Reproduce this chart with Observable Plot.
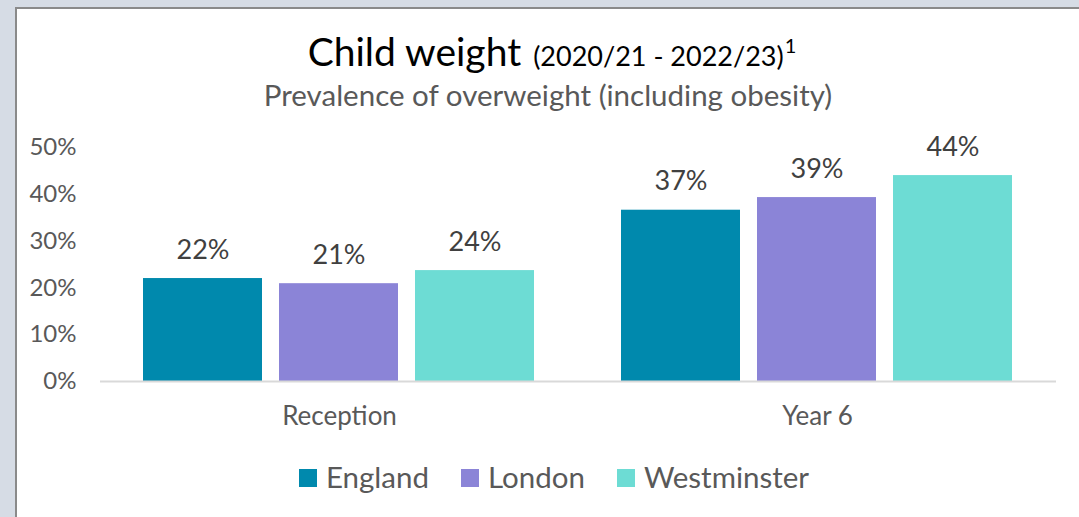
<!DOCTYPE html>
<html>
<head>
<meta charset="utf-8">
<script src="https://cdn.jsdelivr.net/npm/d3@7"></script>
<script src="https://cdn.jsdelivr.net/npm/@observablehq/plot@0.6"></script>
<style>
  html, body { margin: 0; padding: 0; width: 1079px; height: 517px; overflow: hidden; background: #d6dce5; font-family: Lato, "Open Sans", sans-serif; }
  #panel { position: absolute; left: 15px; top: 7px; width: 1070px; height: 520px; background: #fff; border-left: 2px solid #8a8a8a; border-top: 2px solid #8a8a8a; }
  #title { position: absolute; left: 0; width: 1104px; top: 28px; text-align: center; color: #000; white-space: nowrap; }
  #title .main { font-size: 39px; margin-right: 12px; }
  #title .sub { font-size: 27px; }
  #title sup { font-size: 20px; position: relative; top: -3px; margin-left: 1px; }
  #subtitle { position: absolute; left: 0; width: 1096px; top: 77px; text-align: center; color: #595959; font-size: 29.5px; white-space: nowrap; }
  #chart { position: absolute; left: 0; top: 110px; }
  #legend { position: absolute; left: 0; width: 1108px; top: 459px; text-align: center; color: #595959; font-size: 29.5px; white-space: nowrap; }
  #legend .item { display: inline-block; margin: 0 16px; }
  #legend .sw { display: inline-block; width: 18px; height: 18px; margin-right: 9px; vertical-align: 1px; }
</style>
</head>
<body>
<div id="panel"></div>
<div id="title"><span class="main">Child weight</span><span class="sub">(2020/21 - 2022/23)<sup>1</sup></span></div>
<div id="subtitle">Prevalence of overweight (including obesity)</div>
<div id="chart"></div>
<div id="legend"></div>
<script>
const groups = ["Reception", "Year 6"];
const areas = ["England", "London", "Westminster"];
const england = [0.220, 0.366];
const london = [0.209, 0.393];
const westminster = [0.237, 0.440];
const colors = ["#0089ad", "#8b84d7", "#6ddcd4"];
const yTicks = [0, 0.1, 0.2, 0.3, 0.4, 0.5];

const series = [england, london, westminster];
const data = [];
groups.forEach((g, gi) => {
  areas.forEach((a, ai) => {
    data.push({group: g, area: a, value: series[ai][gi]});
  });
});
const pct = d3.format(".0%");

const plot = Plot.plot({
  width: 1079,
  height: 330,
  marginLeft: 100,
  marginRight: 23,
  marginTop: 37,
  marginBottom: 59,
  style: { fontFamily: "Lato, 'Open Sans', sans-serif", fontSize: "24px", color: "#595959", background: "transparent" },
  fx: { domain: groups, paddingInner: 0, paddingOuter: 0, axis: "bottom", tickSize: 0, tickPadding: 25, label: null, fontSize: 26 },
  x: { domain: areas, paddingInner: 0.124, paddingOuter: 0.308, axis: null },
  y: { domain: [0, 0.5], ticks: yTicks, tickFormat: pct, tickSize: 0, tickPadding: 24, label: null },
  color: { domain: areas, range: colors },
  marks: [
    Plot.barY(data, { fx: "group", x: "area", y: "value", fill: "area" }),
    Plot.ruleY([0], { stroke: "#d9d9d9", strokeWidth: 2 }),
    Plot.text(data, { fx: "group", x: "area", y: "value", text: d => pct(d.value), dy: -20, lineAnchor: "bottom", fontSize: 27, fill: "#404040" })
  ]
});
plot.querySelectorAll('[aria-label="fx-axis tick label"] text, g[aria-label="fx-axis"] text').forEach(t => t.setAttribute("font-size", "26"));
document.getElementById("chart").appendChild(plot);

const legend = document.getElementById("legend");
areas.forEach((a, i) => {
  const item = document.createElement("span");
  item.className = "item";
  const sw = document.createElement("span");
  sw.className = "sw";
  sw.style.background = colors[i];
  item.appendChild(sw);
  item.appendChild(document.createTextNode(a));
  legend.appendChild(item);
});
</script>
</body>
</html>
